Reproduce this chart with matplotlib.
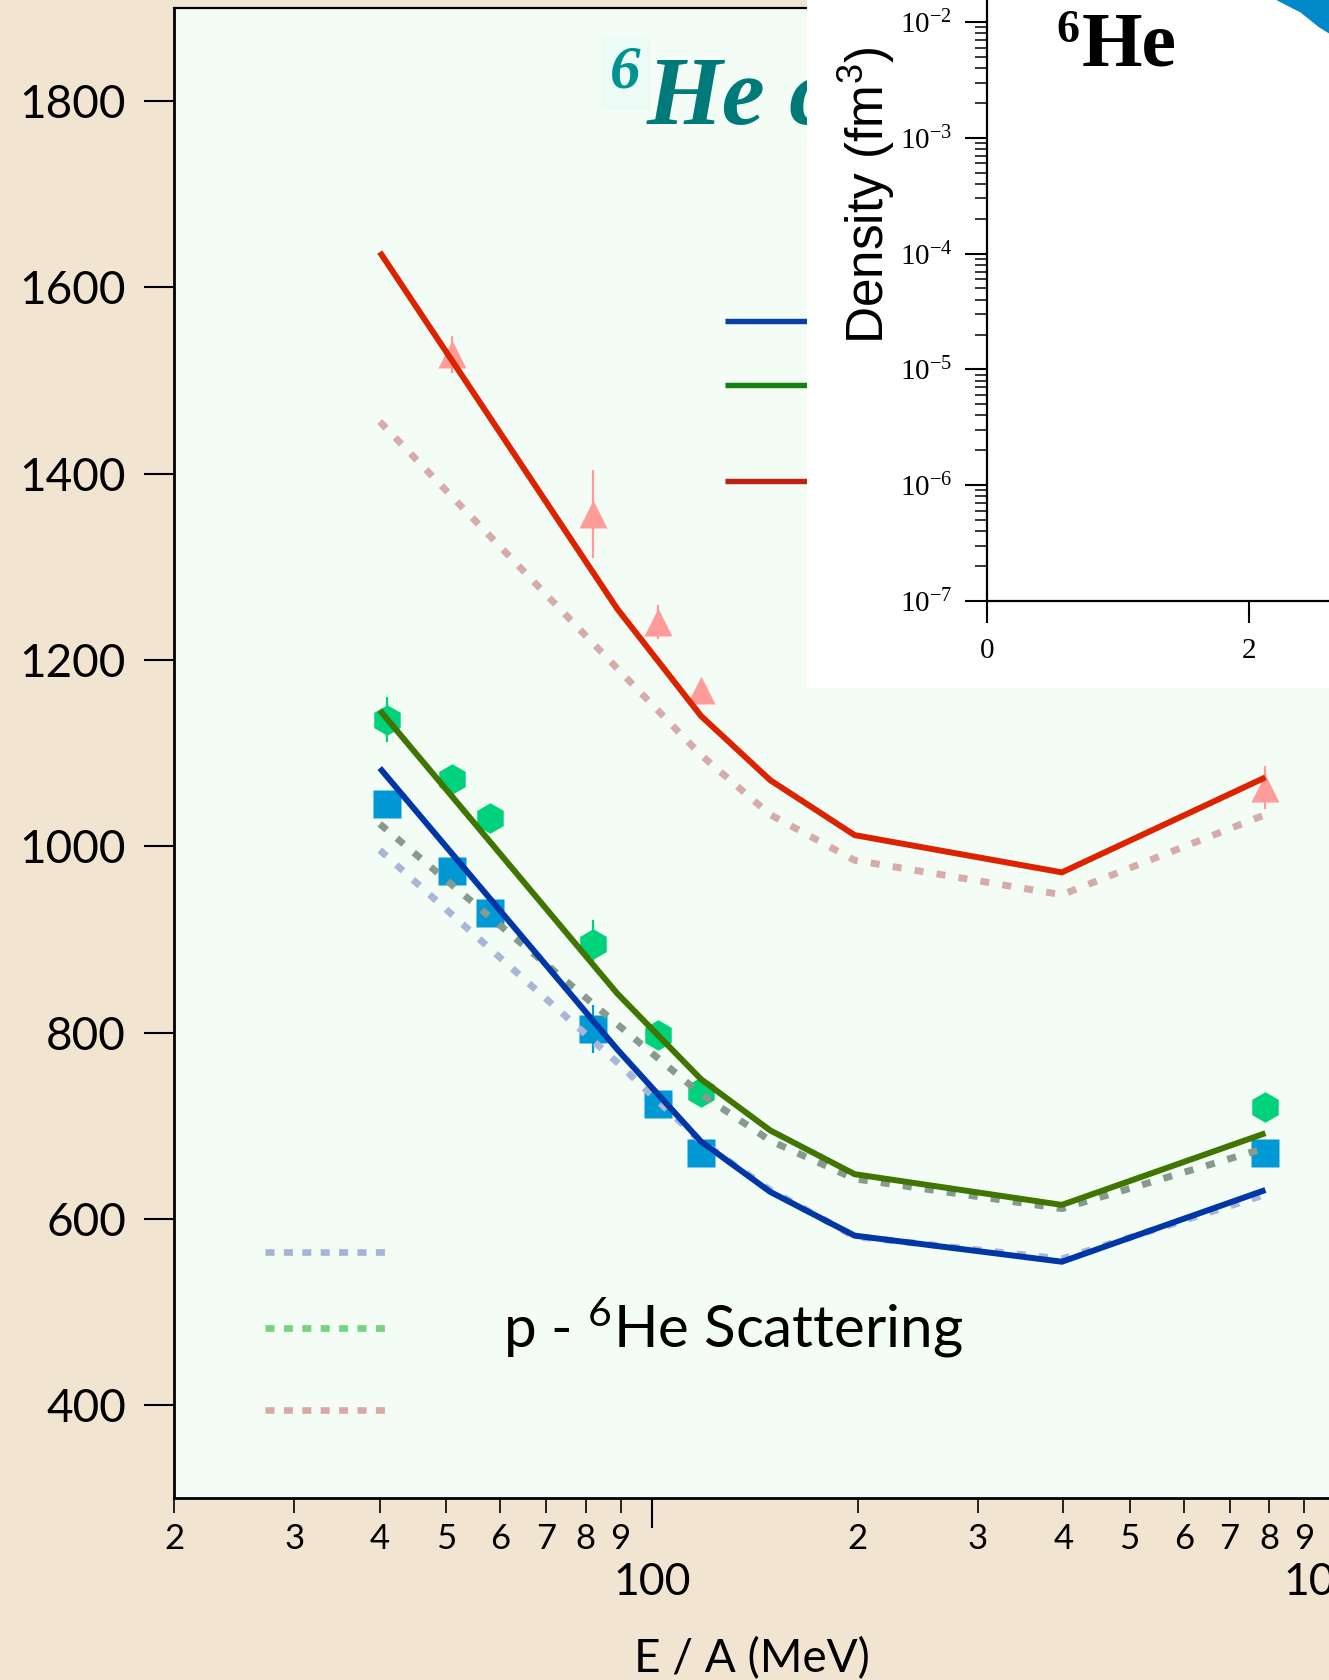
import numpy as np
import matplotlib
matplotlib.use("Agg")
import matplotlib.pyplot as plt
from matplotlib.lines import Line2D
from matplotlib.patches import Rectangle
from matplotlib.ticker import (LogLocator, FuncFormatter, FixedLocator,
                               MultipleLocator, LogFormatterMathtext, NullLocator)

# ---------------- data ----------------
energy_theory = [40, 89, 118, 149, 198, 398, 790]          # E/A (MeV)
theory_blue_solid = [1084, 782, 683, 629, 582, 554, 631]
theory_green_solid = [1146, 842, 750, 695, 648, 615, 692]
theory_red_solid = [1638, 1255, 1140, 1071, 1012, 972, 1074]
theory_blue_dashed = [996, 768, 683, 631, 581, 557, 626]
theory_green_dashed = [1024, 809, 734, 684, 643, 611, 676]
theory_red_dashed = [1456, 1191, 1098, 1034, 985, 948, 1034]

energy_data = [41, 51, 58, 82, 102, 118, 790]
data_squares = [1045, 974, 928, 804, 723, 671, 671]
err_squares = [0, 0, 0, 26, 0, 0, 12]
data_hexagons = [1136, 1072, 1030, 895, 797, 736, 720]
err_hexagons = [24, 0, 0, 26, 0, 0, 14]
energy_triangles = [51, 82, 102, 118, 790]
data_triangles = [1528, 1357, 1241, 1168, 1063]
err_triangles = [20, 47, 18, 10, 23]

y_ticks = [400, 600, 800, 1000, 1200, 1400, 1600, 1800]

# inset: density band edge (r in fm, density in fm^-3)
band_r = [2.21, 2.39, 2.53, 2.61, 3.0]
band_lower = [0.0155, 0.0122, 0.0091, 0.0080, 0.0050]
band_upper = [1.0, 1.0, 1.0, 1.0, 1.0]

# ---------------- style ----------------
plt.rcParams["font.family"] = ["Lato", "DejaVu Sans"]
plt.rcParams["mathtext.fontset"] = "stix"

FIG_BG = "#F1E5D1"
AX_BG = "#F3FDF5"
C_BLUE, C_GREEN, C_RED = "#0036A6", "#3F7500", "#DD2200"
C_BLUE_D, C_GREEN_D, C_RED_D = "#A9B6DA", "#869A8D", "#D8ABAB"
C_SQ, C_HEX, C_TRI = "#0099D5", "#00D27B", "#FF9C9A"
TEAL = "#007A78"

W, H = 1329, 1680
fig = plt.figure(figsize=(W / 100, H / 100), dpi=100, facecolor=FIG_BG)


def fx(px):
    return px / W


def fy(py):
    return 1 - py / H


# ---------------- main axes ----------------
ax = fig.add_axes([fx(174), fy(1498.3), (1335.4 - 174) / W, (1498.3 - 8) / H], zorder=0)
ax.set_facecolor(AX_BG)
ax.set_xscale("log")
ax.set_xlim(20, 1000)
ax.set_ylim(300, 1900)

for sp in ("left", "bottom"):
    ax.spines[sp].set_linewidth(2.0)
ax.spines["top"].set_linewidth(1.6)
ax.spines["right"].set_visible(False)

ax.yaxis.set_major_locator(FixedLocator(y_ticks))
ax.yaxis.set_minor_locator(NullLocator())
ax.xaxis.set_major_locator(LogLocator(base=10, numticks=10))
ax.xaxis.set_minor_locator(LogLocator(base=10, subs=np.arange(2, 10), numticks=20))
ax.xaxis.set_major_formatter(FuncFormatter(lambda v, p: f"{int(round(v))}"))
ax.xaxis.set_minor_formatter(FuncFormatter(
    lambda v, p: f"{int(round(v / 10 ** np.floor(np.log10(v) + 1e-9)))}"))

ax.tick_params(axis="y", which="major", direction="out", length=21.6, width=1.5,
               pad=13, labelsize=33)
ax.tick_params(axis="x", which="major", direction="out", length=21.6, width=1.5,
               pad=24, labelsize=32)
ax.tick_params(axis="x", which="minor", direction="out", length=10.8, width=1.2,
               pad=7, labelsize=25)

# error bars
ax.errorbar(energy_data, data_squares, yerr=err_squares, fmt="none",
            ecolor=C_SQ, elinewidth=1.6, zorder=1.5)
ax.errorbar(energy_data, data_hexagons, yerr=err_hexagons, fmt="none",
            ecolor=C_HEX, elinewidth=1.6, zorder=1.5)
ax.errorbar(energy_triangles, data_triangles, yerr=err_triangles, fmt="none",
            ecolor=C_TRI, elinewidth=1.6, zorder=1.5)

# markers
ax.plot(energy_data, data_squares, ls="none", marker="s", ms=20,
        mfc=C_SQ, mec="none", zorder=2)
ax.plot(energy_data, data_hexagons, ls="none", marker="h", ms=22,
        mfc=C_HEX, mec="none", zorder=2)
ax.plot(energy_triangles, data_triangles, ls="none", marker="^", ms=19.5,
        mfc=C_TRI, mec="none", zorder=2)

# dashed theory
dash_style = (0, (1.3, 1.9))
for vals, col in ((theory_blue_dashed, C_BLUE_D), (theory_green_dashed, C_GREEN_D),
                  (theory_red_dashed, C_RED_D)):
    ax.plot(energy_theory, vals, color=col, lw=5.0, ls=dash_style,
            dash_capstyle="butt", zorder=3)

# solid theory
for vals, col in ((theory_blue_solid, C_BLUE), (theory_green_solid, C_GREEN),
                  (theory_red_solid, C_RED)):
    ax.plot(energy_theory, vals, color=col, lw=4.3, solid_joinstyle="miter",
            solid_capstyle="butt", zorder=4)

# ---------------- text in the main panel ----------------
fig.text(fx(610), fy(88), "6", color="#00938F", size=44, family="Liberation Serif",
         weight="bold", style="italic", ha="left", va="baseline", zorder=0.8,
         bbox=dict(boxstyle="square,pad=0.15", fc="#ECFBF6", ec="none"))
fig.text(fx(647), fy(124), "He c", color=TEAL, size=70,
         family="Liberation Serif", weight="bold", style="italic",
         ha="left", va="baseline", zorder=0.8)

fig.text(fx(503), fy(1348), r"p - $\mathregular{^6}$He Scattering", size=42,
         ha="left", va="baseline", color="black", zorder=3)

fig.text(fx(752), fy(1672), "E / A (MeV)", size=33, ha="center", va="baseline")

# legend keys (solid, upper; partially hidden by inset)
for py, col in ((321, "#0A3DA8"), (385, "#14800F"), (481, "#BB2211")):
    fig.add_artist(Line2D([fx(725), fx(900)], [fy(py), fy(py)], color=col,
                          lw=3.9, solid_capstyle="butt", zorder=0.5))
# legend keys (dashed, lower left)
for py, col in ((1252, "#A5B3DB"), (1328, "#76D37E"), (1410, "#D9A9A9")):
    fig.add_artist(Line2D([fx(264.5), fx(386)], [fy(py), fy(py)], color=col,
                          lw=4.8, ls=(0, (1.35, 1.41)), dash_capstyle="butt",
                          zorder=0.5))

# ---------------- inset ----------------
fig.add_artist(Rectangle((fx(807), fy(688)), 1.0, 1.0, transform=fig.transFigure,
                         fc="white", ec="none", zorder=1))

# inset axes spans from its spines (x=987, y=601 px) to the figure's top/right edges
ins = fig.add_axes([fx(987), fy(601), (W - 987) / W, 601 / H], zorder=2)
ins.set_facecolor("none")
ins.set_yscale("log")
ins.set_xlim(0, (W - 987) / 131.0)
ins.set_ylim(1e-7, 10 ** (-2 + 22 / 115.8))
ins.spines["top"].set_visible(False)
ins.spines["right"].set_visible(False)
ins.spines["left"].set_linewidth(1.6)
ins.spines["bottom"].set_linewidth(1.6)
ins.xaxis.set_major_locator(MultipleLocator(2))
ins.xaxis.set_minor_locator(NullLocator())
ins.yaxis.set_major_locator(LogLocator(base=10, numticks=20))
ins.yaxis.set_minor_locator(LogLocator(base=10, subs=np.arange(2, 10), numticks=40))
ins.yaxis.set_major_formatter(LogFormatterMathtext())
ins.tick_params(which="major", direction="out", length=16, width=1.5, labelsize=21)
ins.tick_params(which="minor", direction="out", length=8.5, width=1.1)
ins.tick_params(axis="y", which="major", pad=9)
ins.tick_params(axis="x", which="major", pad=11)
for lab in ins.get_xticklabels() + ins.get_yticklabels():
    lab.set_family("Liberation Serif")

ins.fill_between(band_r, band_lower, band_upper, color="#0088C8", lw=0, zorder=1)

fig.text(fx(867), fy(195), r"Density (fm$\mathregular{^3}$)", rotation=90,
         family="Liberation Sans", size=37, ha="center", va="center", zorder=3)
fig.text(fx(1056), fy(42), "6", family="Liberation Serif", weight="bold",
         size=33, ha="left", va="baseline", zorder=3)
fig.text(fx(1082), fy(66), "He", family="Liberation Serif", weight="bold",
         size=56, ha="left", va="baseline", zorder=3)

fig.savefig("out.png", dpi=100, facecolor=FIG_BG)
